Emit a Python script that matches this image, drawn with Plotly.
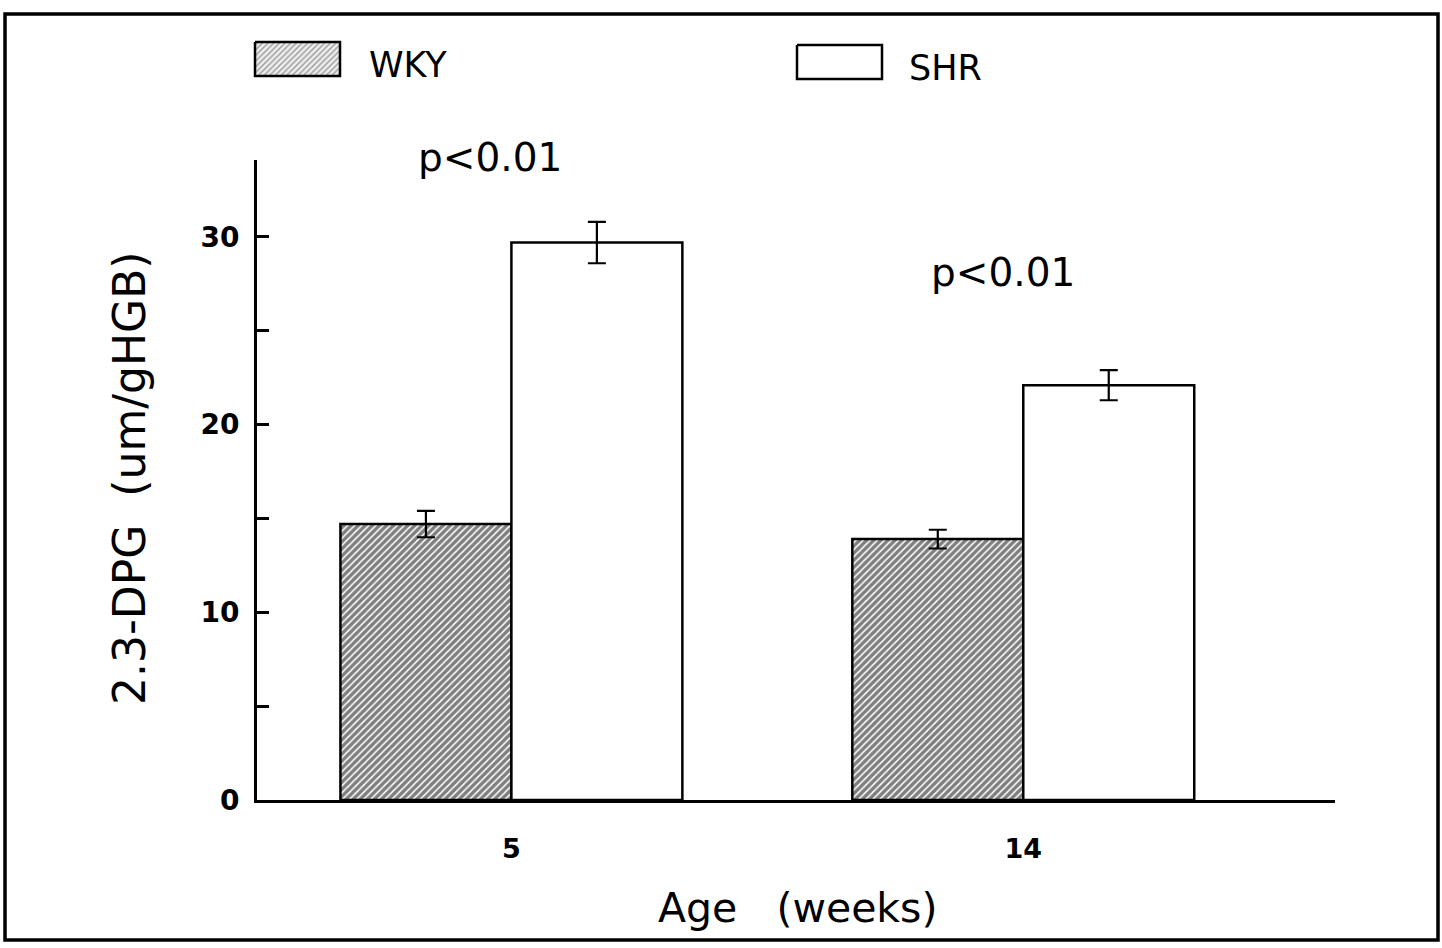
import plotly.graph_objects as go

# ---- data ----
ages = ["5", "14"]
wky_values = [14.7, 13.9]
wky_errors = [0.7, 0.5]
shr_values = [29.7, 22.1]
shr_errors = [1.1, 0.8]
y_tick_values = [0, 10, 20, 30]
p_labels = ["p<0.01", "p<0.01"]

W, H = 1442, 948
FONT = "DejaVu Sans"

def px_x(v):
    return v / W

def px_y(v):
    return 1 - v / H

fig = go.Figure()

hatch = dict(shape="/", size=5, solidity=0.7, fgcolor="black", bgcolor="white")

fig.add_trace(go.Bar(
    x=ages, y=wky_values, name="WKY",
    marker=dict(color="white", pattern=hatch, line=dict(color="black", width=2.5)),
    error_y=dict(type="data", array=wky_errors, color="black", thickness=2.2, width=9),
    xaxis="x", yaxis="y",
))
fig.add_trace(go.Bar(
    x=ages, y=shr_values, name="SHR",
    marker=dict(color="white", line=dict(color="black", width=2.5)),
    error_y=dict(type="data", array=shr_errors, color="black", thickness=2.2, width=9),
    xaxis="x", yaxis="y",
))

# legend patches drawn on a pixel overlay axis
fig.add_trace(go.Scatter(
    x=[255, 340, 340, 255, 255], y=[42, 42, 76, 76, 42],
    mode="lines", fill="toself",
    fillcolor="white",
    fillpattern=dict(shape="/", size=4, solidity=0.35, fgcolor="#444", bgcolor="#eeeeee"),
    line=dict(color="black", width=2.5),
    xaxis="x2", yaxis="y2", hoverinfo="skip", showlegend=False,
))
fig.add_trace(go.Scatter(
    x=[797, 882, 882, 797, 797], y=[45, 45, 79, 79, 45],
    mode="lines", fill="toself", fillcolor="white",
    line=dict(color="black", width=2.5),
    xaxis="x2", yaxis="y2", hoverinfo="skip", showlegend=False,
))

fig.update_layout(
    width=W, height=H,
    autosize=False,
    margin=dict(l=0, r=0, t=0, b=0, pad=0, autoexpand=False),
    paper_bgcolor="white",
    plot_bgcolor="rgba(0,0,0,0)",
    showlegend=False,
    barmode="group",
    bargap=0.332,
    bargroupgap=0,
    font=dict(family=FONT, color="black"),
    xaxis=dict(
        domain=[257 / W, 1335 / W], anchor="y", automargin=False,
        type="category", range=[-0.497, 1.609],
        showline=True, linecolor="black", linewidth=3,
        ticks="", showgrid=False, zeroline=False,
        tickfont=dict(family=FONT, size=27, weight="bold", color="black"),
        ticklabelstandoff=23,
    ),
    yaxis=dict(
        domain=[(H - 800) / H, (H - 160) / H], anchor="x", automargin=False,
        range=[0, 34.1],
        tickvals=y_tick_values,
        showline=True, linecolor="black", linewidth=3,
        ticks="inside", ticklen=12, tickwidth=2.5, tickcolor="black",
        minor=dict(dtick=5, ticks="inside", ticklen=12, tickwidth=2.5, tickcolor="black"),
        showgrid=False, zeroline=False,
        tickfont=dict(family=FONT, size=28, weight="bold", color="black"),
        ticklabelstandoff=9,
    ),
    xaxis2=dict(domain=[0, 1], anchor="y2", range=[0, W], visible=False,
                fixedrange=True, automargin=False),
    yaxis2=dict(domain=[0, 1], anchor="x2", range=[H, 0], visible=False,
                fixedrange=True, automargin=False),
)

# outer frame
fig.add_shape(type="rect", xref="paper", yref="paper",
              x0=px_x(5), x1=px_x(1438), y0=px_y(14), y1=px_y(940),
              line=dict(color="black", width=3.5), layer="above")

annotations = [
    dict(text="WKY", x=px_x(367), y=px_y(65), xanchor="left", size=35),
    dict(text="SHR", x=px_x(907), y=px_y(68), xanchor="left", size=35),
    dict(text=p_labels[0], x=px_x(490), y=px_y(157), xanchor="center", size=39),
    dict(text=p_labels[1], x=px_x(1003), y=px_y(272), xanchor="center", size=39),
    dict(text="Age   (weeks)", x=px_x(797), y=px_y(908), xanchor="center", size=41),
]
for a in annotations:
    fig.add_annotation(text=a["text"], xref="paper", yref="paper", x=a["x"], y=a["y"],
                       xanchor=a["xanchor"], yanchor="middle", showarrow=False,
                       font=dict(family=FONT, size=a["size"], color="black"))

fig.add_annotation(text="2.3-DPG  (um/gHGB)", xref="paper", yref="paper",
                   x=px_x(130), y=px_y(478), xanchor="center", yanchor="middle",
                   textangle=-90, showarrow=False,
                   font=dict(family=FONT, size=44, color="black"))

fig.write_html("out.html", config={"displayModeBar": False},
               post_script="document.body.style.margin='0';document.body.style.overflow='hidden';")
